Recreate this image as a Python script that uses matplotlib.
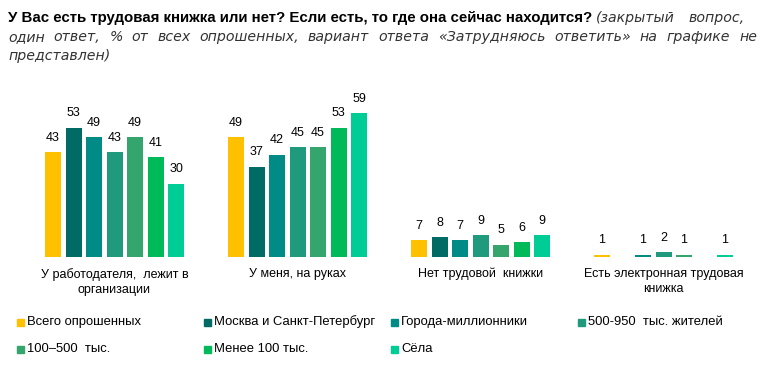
import matplotlib
matplotlib.use('Agg')
import matplotlib.pyplot as plt
from matplotlib.patches import Rectangle
from matplotlib.transforms import blended_transform_factory

# данные
categories = ['У работодателя,  лежит в\nорганизации', 'У меня, на руках',
              'Нет трудовой  книжки', 'Есть электронная трудовая\nкнижка']
series = ['Всего опрошенных', 'Москва и Санкт-Петербург', 'Города-миллионники',
          '500-950  тыс. жителей', '100–500  тыс.', 'Менее 100 тыс.', 'Сёла']
colors = ['#FFC000', '#006A64', '#008B87', '#1F9A7C', '#34A66D', '#00BA5A', '#00CC96']
values = [
    [43, 49, 7, 1],   # Всего
    [53, 37, 8, 0],   # Москва и СПб
    [49, 42, 7, 1],   # миллионники
    [43, 45, 9, 2],   # 500-950
    [49, 45, 5, 1],   # 100-500
    [41, 53, 6, 0],   # менее 100
    [30, 59, 9, 1],   # сёла
]

plt.rcParams['font.family'] = ['Liberation Sans', 'DejaVu Sans']

W, H = 774, 365
fig = plt.figure(figsize=(W / 100, H / 100), dpi=100)

# оси: базовая линия на 257 px сверху
base = 257
top = 100
ax = fig.add_axes([0, 1 - base / H, 1, (base - top) / H])
px_unit = 2.44
ax.set_ylim(0, (base - top) / px_unit)
g0, gstep = 114.5, 183.0
ax.set_xlim(-g0 / gstep, (W - g0) / gstep)
ax.axis('off')

pitch = 20.5 / gstep
bw = 16 / gstep
for s, (name, col) in enumerate(zip(series, colors)):
    xs = [g + (s - 3) * pitch for g in range(len(categories))]
    ax.bar(xs, values[s], width=bw, color=col)
    for x, v in zip(xs, values[s]):
        if v > 0:
            ax.annotate(str(v), (x, v), xytext=(0, 6), textcoords='offset points',
                        ha='center', va='bottom', fontsize=9, color='#000000')

tr = blended_transform_factory(ax.transData, fig.transFigure)
for g, cat in enumerate(categories):
    ax.text(g, 1 - 268 / H, cat, transform=tr, ha='center', va='top',
            fontsize=9, linespacing=1.35)

# заголовок
fig.canvas.draw()
r = fig.canvas.get_renderer()


def justify(words, y, x0, x1, **kw):
    # разложить слова по строке от x0 до x1
    arts = [fig.text(0, 1 - y / H, w, va='baseline', **kw) for w in words]
    widths = [a.get_window_extent(r).width for a in arts]
    gap = (x1 - x0 - sum(widths)) / (len(words) - 1)
    x = x0
    for a, w in zip(arts, widths):
        a.set_x(x / W)
        x += w + gap


ital = dict(style='italic', fontsize=10.2, color='#333333', family='DejaVu Sans')
t1 = fig.text(8 / W, 1 - 22 / H, 'У Вас есть трудовая книжка или нет? Если есть, то где она сейчас находится?',
              weight='bold', fontsize=10.8, va='baseline')
bb = t1.get_window_extent(r)
justify(['(закрытый', 'вопрос,'], 22, bb.x1 + 4, 745, **ital)
justify('один ответ, % от всех опрошенных, вариант ответа «Затрудняюсь ответить» на графике не'.split(),
        41, 8, 757, **ital)
fig.text(8 / W, 1 - 60 / H, 'представлен)', va='baseline', **ital)

# легенда
for i, (name, col) in enumerate(zip(series, colors)):
    c, rw = i % 4, i // 4
    x = 17 + c * 187
    y = 322 + rw * 27
    fig.add_artist(Rectangle((x / W, 1 - (y + 3.5) / H), 7 / W, 7 / H,
                             transform=fig.transFigure, color=col))
    fig.text((x + 10) / W, 1 - y / H, name, fontsize=9.4, va='center')

fig.savefig('out.png', dpi=100)
